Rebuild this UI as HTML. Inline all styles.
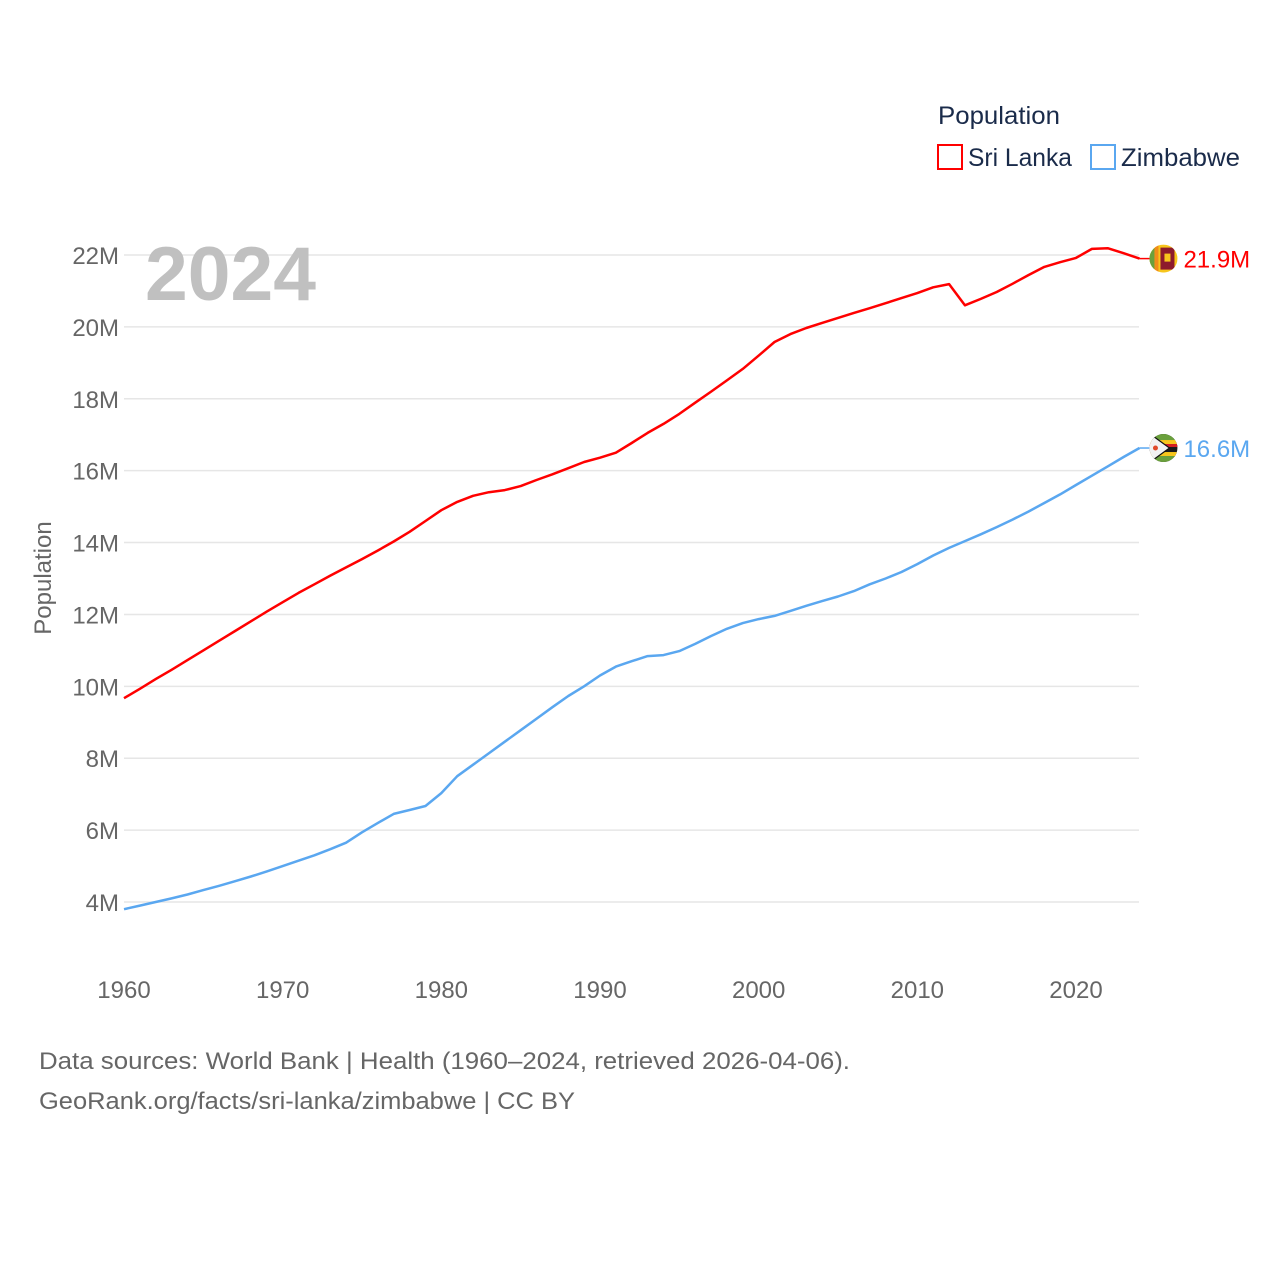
<!DOCTYPE html>
<html><head><meta charset="utf-8">
<style>
html,body{margin:0;padding:0;background:#fff;}
body{width:1280px;height:1280px;position:relative;overflow:hidden;font-family:"Liberation Sans",sans-serif;}
</style></head>
<body>
<svg id="chart" width="1280" height="1280" xmlns="http://www.w3.org/2000/svg" font-family="Liberation Sans, sans-serif">
<defs id="defs"></defs>
<g id="grid"></g>
<g id="yticks"></g>
<g id="xticks"></g>
<text x="145" y="300" font-size="76" font-weight="bold" fill="#c0c0c0" textLength="171" lengthAdjust="spacingAndGlyphs">2024</text>
<text transform="translate(51,578) rotate(-90)" text-anchor="middle" font-size="24" fill="#666">Population</text>
<g id="series"></g>
<g>
<text x="938" y="124" font-size="25" fill="#1a2b4a" textLength="122" lengthAdjust="spacingAndGlyphs">Population</text>
<g><rect x="938" y="145" width="24" height="24" fill="none" stroke="#ff0000" stroke-width="2"/><text x="968" y="166" font-size="25" fill="#1a2b4a" textLength="104" lengthAdjust="spacingAndGlyphs">Sri Lanka</text></g>
<g><rect x="1091" y="145" width="24" height="24" fill="none" stroke="#5aa7f0" stroke-width="2"/><text x="1121" y="166" font-size="25" fill="#1a2b4a" textLength="119" lengthAdjust="spacingAndGlyphs">Zimbabwe</text></g>
</g>
<text x="39" y="1069" font-size="24" fill="#666" textLength="811" lengthAdjust="spacingAndGlyphs">Data sources: World Bank | Health (1960–2024, retrieved 2026-04-06).</text>
<text x="39" y="1109" font-size="24" fill="#666" textLength="536" lengthAdjust="spacingAndGlyphs">GeoRank.org/facts/sri-lanka/zimbabwe | CC BY</text>
</svg>
<script>
const years = [];
for (let y = 1960; y <= 2024; y++) years.push(y);
const sriLanka = [9.67,9.93,10.2,10.46,10.73,11.0,11.27,11.54,11.81,12.08,12.34,12.6,12.84,13.08,13.31,13.54,13.78,14.03,14.3,14.6,14.9,15.13,15.3,15.4,15.46,15.57,15.74,15.9,16.07,16.24,16.36,16.5,16.77,17.05,17.3,17.58,17.89,18.2,18.51,18.83,19.2,19.58,19.8,19.97,20.11,20.25,20.39,20.52,20.66,20.8,20.94,21.1,21.19,20.6,20.78,20.97,21.2,21.44,21.67,21.8,21.92,22.17,22.19,22.05,21.9];
const zimbabwe = [3.8,3.9,4.0,4.1,4.21,4.33,4.45,4.58,4.71,4.85,5.0,5.15,5.3,5.47,5.65,5.94,6.2,6.45,6.56,6.67,7.03,7.5,7.82,8.14,8.46,8.78,9.1,9.42,9.73,10.0,10.3,10.55,10.7,10.84,10.87,10.98,11.18,11.4,11.6,11.76,11.87,11.96,12.1,12.24,12.37,12.5,12.65,12.84,13.0,13.18,13.4,13.64,13.85,14.04,14.23,14.43,14.64,14.86,15.1,15.34,15.6,15.86,16.12,16.38,16.63];
const yTicks = [4,6,8,10,12,14,16,18,20,22];
const xTicks = [1960,1970,1980,1990,2000,2010,2020];
const NS = "http://www.w3.org/2000/svg";
const xS = y => 124 + (y - 1960) * (1076 - 124) / 60;
const yS = v => 902 - (v - 4) * (902 - 255) / 18;
function mk(tag, attrs, parent){const e=document.createElementNS(NS,tag);for(const k in attrs)e.setAttribute(k,attrs[k]);parent.appendChild(e);return e;}
const grid=document.getElementById('grid'), yt=document.getElementById('yticks'), xt=document.getElementById('xticks'), ser=document.getElementById('series'), defs=document.getElementById('defs');
yTicks.forEach(v=>{
  const l=mk('line',{x1:124,x2:1139,y1:yS(v),y2:yS(v),stroke:'#e6e6e6','stroke-width':1.5},grid);
  
  
  const t=mk('text',{x:119,y:yS(v)+9,'text-anchor':'end','font-size':24,fill:'#666'},yt);
  t.textContent=v+'M';
  
  
});
xTicks.forEach(v=>{
  const t=mk('text',{x:xS(v),y:998,'text-anchor':'middle','font-size':24,fill:'#666'},xt);
  t.textContent=v;
  
  
});
function drawSeries(vals,color,name,label){
  const d=vals.map((v,i)=>(i?'L':'M')+xS(years[i]).toFixed(1)+','+yS(v).toFixed(1)).join('');
  const p=mk('path',{d:d,fill:'none',stroke:color,'stroke-width':2.5,'stroke-linejoin':'round'},ser);
  
  
  const last=vals[vals.length-1], ly=yS(last), lx=xS(years[years.length-1]);
  mk('line',{x1:lx,x2:lx+10,y1:ly,y2:ly,stroke:color,'stroke-width':1.5},ser);
  const cp=mk('clipPath',{id:'clip-'+name},defs);
  mk('circle',{cx:lx+24,cy:ly,r:14},cp);
  const g=mk('g',{'clip-path':'url(#clip-'+name+')'},ser);
  
  
  if(name==='sri-lanka'){
    mk('rect',{x:lx+10,y:ly-14,width:28,height:28,fill:'#f7c61c'},g);
    mk('rect',{x:lx+10,y:ly-14,width:5,height:28,fill:'#6aa03c'},g);
    mk('rect',{x:lx+15,y:ly-14,width:4,height:28,fill:'#f08c1a'},g);
    mk('rect',{x:lx+21,y:ly-11,width:14,height:22,fill:'#8d1b2c'},g);
    mk('rect',{x:lx+25,y:ly-5,width:6,height:8,fill:'#f7c61c'},g);
  } else {
    mk('rect',{x:lx+10,y:ly-14,width:28,height:28,fill:'#1a1a1a'},g);
    mk('rect',{x:lx+10,y:ly-14,width:28,height:6,fill:'#6aa03c'},g);
    mk('rect',{x:lx+10,y:ly-8,width:28,height:4,fill:'#f7c61c'},g);
    mk('rect',{x:lx+10,y:ly-4,width:28,height:3,fill:'#d62020'},g);
    mk('rect',{x:lx+10,y:ly+4,width:28,height:4,fill:'#f7c61c'},g);
    mk('rect',{x:lx+10,y:ly+8,width:28,height:6,fill:'#6aa03c'},g);
    mk('path',{d:`M${lx+8},${ly-16} L${lx+30},${ly} L${lx+8},${ly+16}z`,fill:'#f2f2f2',stroke:'#111','stroke-width':1.2},g);
    mk('circle',{cx:lx+16,cy:ly,r:2.5,fill:'#e04a2a'},g);
  }
  const t=mk('text',{x:lx+44,y:ly+9,'font-size':24,fill:color},ser);
  t.textContent=label;
  
  
}
drawSeries(zimbabwe,'#5aa7f0','zimbabwe',zimbabwe[zimbabwe.length-1].toFixed(1)+'M');
drawSeries(sriLanka,'#ff0000','sri-lanka',sriLanka[sriLanka.length-1].toFixed(1)+'M');
</script>
</body></html>
